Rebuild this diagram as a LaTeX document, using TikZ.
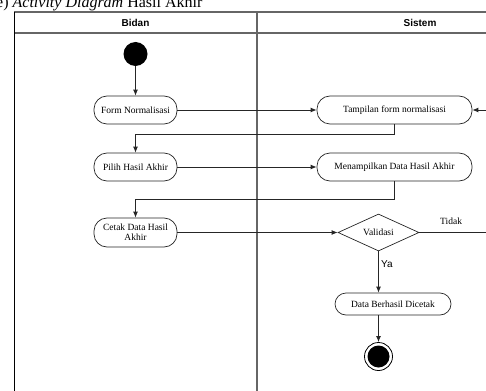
\documentclass[tikz,border=0pt]{standalone}
\usepackage{fontspec}
\setmainfont{Liberation Serif}
\newfontfamily\hdrfont{Liberation Sans}
\usetikzlibrary{arrows.meta,shapes.geometric}
\tikzset{
  act/.style={draw=black!85, line width=0.7pt, rounded corners=13pt, align=center, inner sep=1pt,
    font=\fontsize{9.5}{10}\selectfont, minimum height=28pt},
  conn/.style={draw=black!85, line width=0.9pt, -{Latex[length=6pt,width=5pt]}},
  plain/.style={draw=black!85, line width=0.9pt},
  lane/.style={draw=black!60, line width=1.2pt},
}
\begin{document}
\begin{tikzpicture}[x=1pt,y=-1pt]
\useasboundingbox (0,0) rectangle (486,390);
% caption
\node[anchor=base west, inner sep=0pt, font=\fontsize{16}{18}\selectfont] (cap) at (-4,8) {e) \textit{Activity Diagram} Hasil Akhir};
% swimlanes
\draw[lane] (14,12) -- (495,12);
\draw[lane] (14,33) -- (495,33);
\draw[draw=black, line width=1pt] (14,12) -- (14,395);
\draw[lane] (257,12) -- (257,395);
\node[font=\hdrfont\bfseries\fontsize{10}{12}\selectfont] (h1) at (135.5,22.5) {Bidan};
\node[font=\hdrfont\bfseries\fontsize{10}{12}\selectfont] (h2) at (420,22.5) {Sistem};
% nodes
\node[circle, fill=black, minimum size=24pt, inner sep=0pt] (start) at (135.5,54) {};
\node[act, minimum width=83pt] (form) at (135.5,110) {Form Normalisasi};
\node[act, minimum width=83pt] (pilih) at (135.5,167) {Pilih Hasil Akhir};
\node[act, minimum width=83pt, minimum height=29pt] (cetak) at (135.5,232.5) {Cetak Data Hasil\\Akhir};
\node[act, minimum width=155pt] (tampil) at (394.5,110) {Tampilan form normalisasi};
\node[act, minimum width=155pt] (menampil) at (394.5,167) {Menampilkan Data Hasil Akhir};
\node[diamond, draw=black!85, line width=0.7pt, minimum width=81pt, minimum height=37pt, inner sep=0pt, aspect=2.2,
  font=\fontsize{9.5}{10}\selectfont] (valid) at (378.5,232.5) {Validasi};
\node[act, minimum width=116pt, minimum height=22pt, rounded corners=11pt] (data) at (393,304) {Data Berhasil Dicetak};
\node[circle, draw=black, line width=0.8pt, minimum size=28pt, inner sep=0pt] (end) at (378.5,356.5) {};
\node[circle, fill=black, minimum size=22pt, inner sep=0pt] (endin) at (end.center) {};
\coordinate (loopA) at (500,232.5);
\coordinate (loopB) at (500,110);
% connectors
\draw[conn] (start) -- (form);
\draw[conn] (form) -- (tampil);
\draw[conn] (tampil.south) -- (394.5,134) -| (pilih.north);
\draw[conn] (pilih) -- (menampil);
\draw[conn] (menampil.south) -- (394.5,199) -| (cetak.north);
\draw[conn] (cetak) -- (valid);
\draw[conn] (valid.east) -- (loopA) -- (loopB) -- (tampil.east);
\draw[conn] (valid.south) -- (valid.south |- data.north);
\draw[conn] (end.north |- data.south) -- (end.north);
% labels
\node[anchor=base west, inner sep=0pt, font=\fontsize{9.5}{10}\selectfont] (tidak) at (440,224) {Tidak};
\node[anchor=base west, inner sep=0pt, font=\hdrfont\fontsize{10}{12}\selectfont] (ya) at (381,267) {Ya};
\end{tikzpicture}
\end{document}
